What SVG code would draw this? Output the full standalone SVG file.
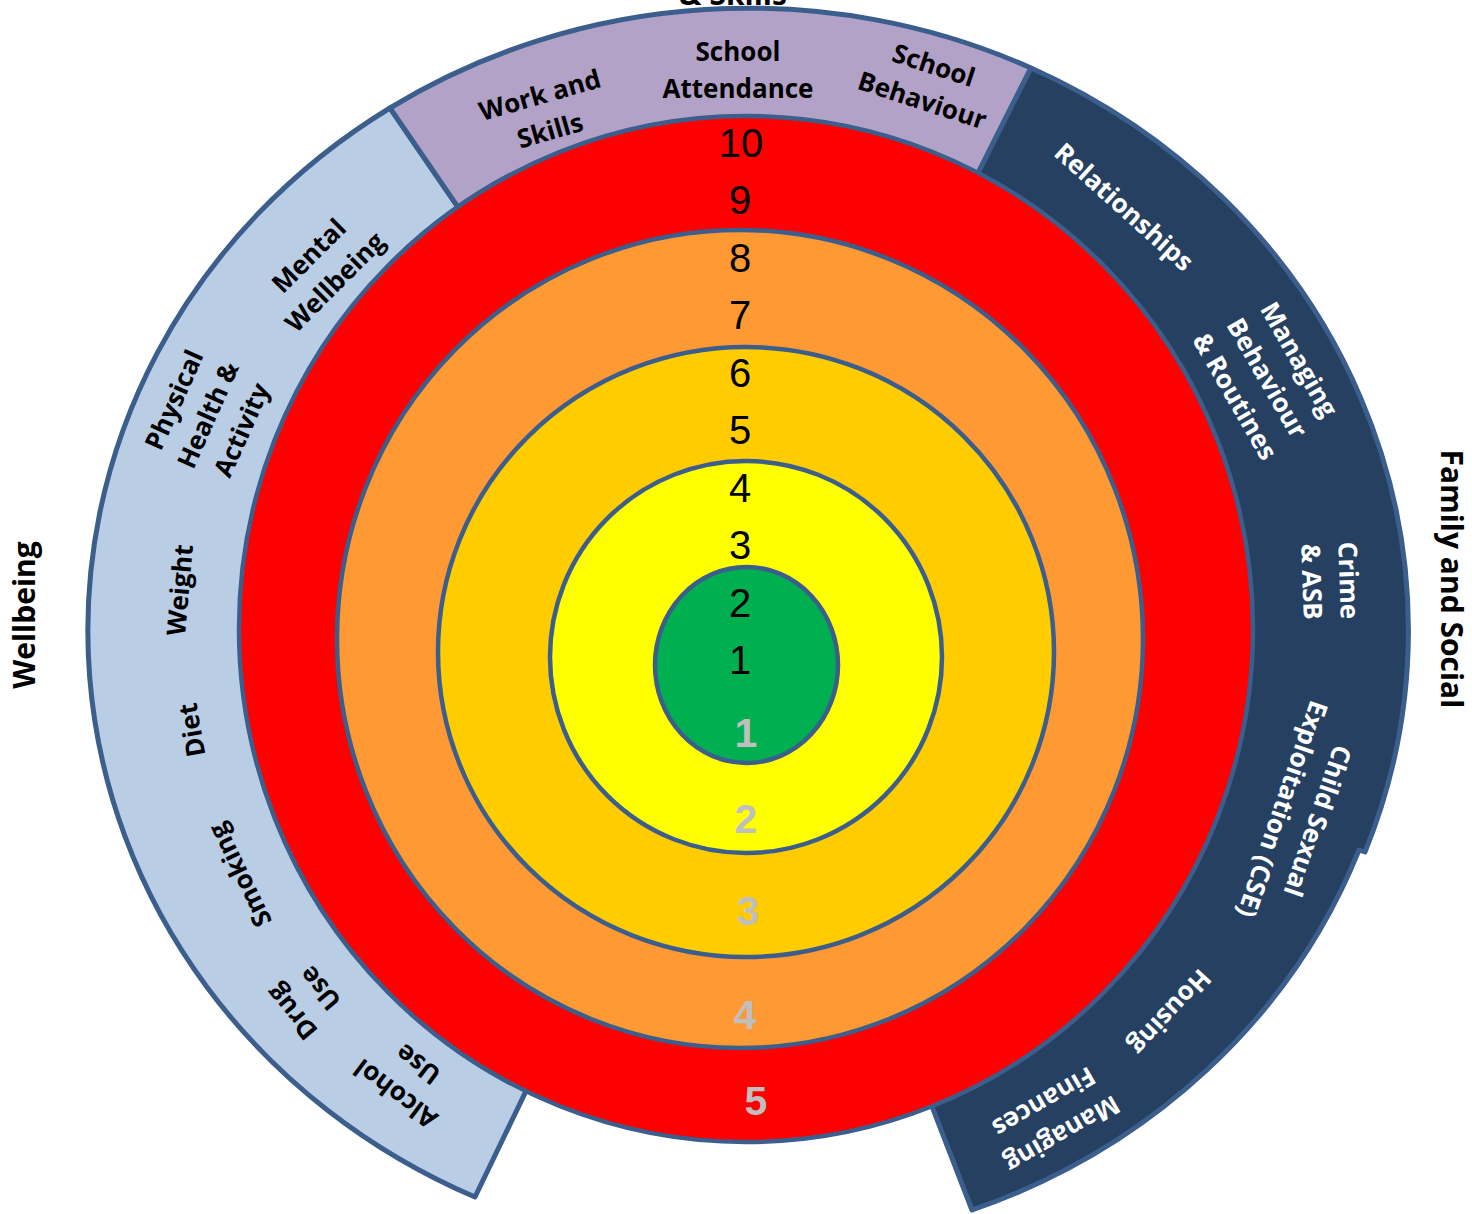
<svg xmlns="http://www.w3.org/2000/svg" width="1472" height="1214" viewBox="0 0 1472 1214">
<style>
.sec{stroke:#3B5E8C;stroke-width:5;stroke-linejoin:round}
.ring{stroke:#3B5E8C;stroke-width:4.5}
.lbl{font-family:"Open Sans","Liberation Sans",sans-serif;font-weight:bold;font-size:26px;text-anchor:middle}
.dk{fill:#000}
.wt{fill:#fff}
.ttl{font-family:"Open Sans","Liberation Sans",sans-serif;font-weight:bold;font-size:30px;text-anchor:middle;fill:#000}
.num{font-family:"Liberation Sans",sans-serif;font-size:40px;text-anchor:middle;fill:#000}
.gnum{font-family:"Liberation Sans",sans-serif;font-weight:bold;font-size:41px;text-anchor:middle;fill:#BFBFBF}
</style>
<rect width="1472" height="1214" fill="#fff"/>
<g id="sectors">
<path id="wellbeing-sector" class="sec" fill="#B9CDE5" d="M748,630 L475,1197 A660,622 0 0 1 390,108 Z"/>
<path id="skills-sector" class="sec" fill="#B3A2C7" d="M748,630 L390,108 A660,622 0 0 1 1031,68 Z"/>
<path id="family-sector" class="sec" fill="#254061" d="M748,630 L1031,68 A660,622 0 0 1 1365,852 L1359,850 A653,616 0 0 1 972,1210 Z"/>
</g>
<g id="rings">
<ellipse id="ring5" class="ring" fill="#FF0000" cx="746" cy="629" rx="507" ry="513"/>
<ellipse id="ring4" class="ring" fill="#FF9933" cx="740" cy="639" rx="403" ry="409"/>
<ellipse id="ring3" class="ring" fill="#FFCC00" cx="746" cy="652" rx="308" ry="305"/>
<ellipse id="ring2" class="ring" fill="#FFFF00" cx="746" cy="657" rx="196" ry="196"/>
<ellipse id="ring1" class="ring" fill="#00B050" cx="746.5" cy="665" rx="91.5" ry="98"/>
</g>
<g id="scale">
<text class="num" x="741" y="157">10</text>
<text class="num" x="740" y="214">9</text>
<text class="num" x="740" y="272">8</text>
<text class="num" x="740" y="329">7</text>
<text class="num" x="740" y="387">6</text>
<text class="num" x="740" y="444">5</text>
<text class="num" x="740" y="502">4</text>
<text class="num" x="740" y="559">3</text>
<text class="num" x="740" y="617">2</text>
<text class="num" x="740" y="674">1</text>
<text class="gnum" x="746" y="747">1</text>
<text class="gnum" x="746" y="833">2</text>
<text class="gnum" x="748" y="925">3</text>
<text class="gnum" x="745" y="1029">4</text>
<text class="gnum" x="756" y="1115">5</text>
</g>
<g id="labels">
<text class="lbl dk" transform="translate(545,113) rotate(-16)"><tspan x="0" y="-9.5">Work and</tspan><tspan x="0" y="27.5">Skills</tspan></text>
<text class="lbl dk" transform="translate(738,70)"><tspan x="0" y="-9.5">School</tspan><tspan x="0" y="27.5">Attendance</tspan></text>
<text class="lbl dk" transform="translate(928,83) rotate(18)"><tspan x="0" y="-9.5">School</tspan><tspan x="0" y="27.5">Behaviour</tspan></text>
<text class="lbl wt" transform="translate(1124,207) rotate(42)"><tspan x="0" y="9">Relationships</tspan></text>
<text class="lbl wt" transform="translate(1267,378) rotate(60)"><tspan x="0" y="-28">Managing</tspan><tspan x="0" y="9">Behaviour</tspan><tspan x="0" y="46">&amp; Routines</tspan></text>
<text class="lbl wt" transform="translate(1330,581) rotate(88)"><tspan x="0" y="-9.5">Crime</tspan><tspan x="0" y="27.5">&amp; ASB</tspan></text>
<text class="lbl wt" transform="translate(1300,815) rotate(109)"><tspan x="0" y="-9.5">Child Sexual</tspan><tspan x="0" y="27.5">Exploitation (CSE)</tspan></text>
<text class="lbl wt" transform="translate(1170,1012) rotate(133)"><tspan x="0" y="9">Housing</tspan></text>
<text class="lbl wt" transform="translate(1053,1118) rotate(150)"><tspan x="0" y="-9.5">Managing</tspan><tspan x="0" y="27.5">Finances</tspan></text>
<text class="lbl dk" transform="translate(407,1079) rotate(217)"><tspan x="0" y="-9.5">Alcohol</tspan><tspan x="0" y="27.5">Use</tspan></text>
<text class="lbl dk" transform="translate(306,1000) rotate(230)"><tspan x="0" y="-9.5">Drug</tspan><tspan x="0" y="27.5">Use</tspan></text>
<text class="lbl dk" transform="translate(240,875) rotate(244)"><tspan x="0" y="9">Smoking</tspan></text>
<text class="lbl dk" transform="translate(192,730) rotate(260)"><tspan x="0" y="9">Diet</tspan></text>
<text class="lbl dk" transform="translate(180,590) rotate(275)"><tspan x="0" y="9">Weight</tspan></text>
<text class="lbl dk" transform="translate(208,415) rotate(294)"><tspan x="0" y="-28">Physical</tspan><tspan x="0" y="9">Health &amp;</tspan><tspan x="0" y="46">Activity</tspan></text>
<text class="lbl dk" transform="translate(322,269) rotate(315)"><tspan x="0" y="-9.5">Mental</tspan><tspan x="0" y="27.5">Wellbeing</tspan></text>
</g>
<g id="titles">
<text class="ttl" transform="translate(35,615) rotate(-90)">Wellbeing</text>
<text class="ttl" transform="translate(1441,579) rotate(90)">Family and Social</text>
<text class="ttl" x="733" y="5">&amp; Skills</text>
</g>
</svg>
